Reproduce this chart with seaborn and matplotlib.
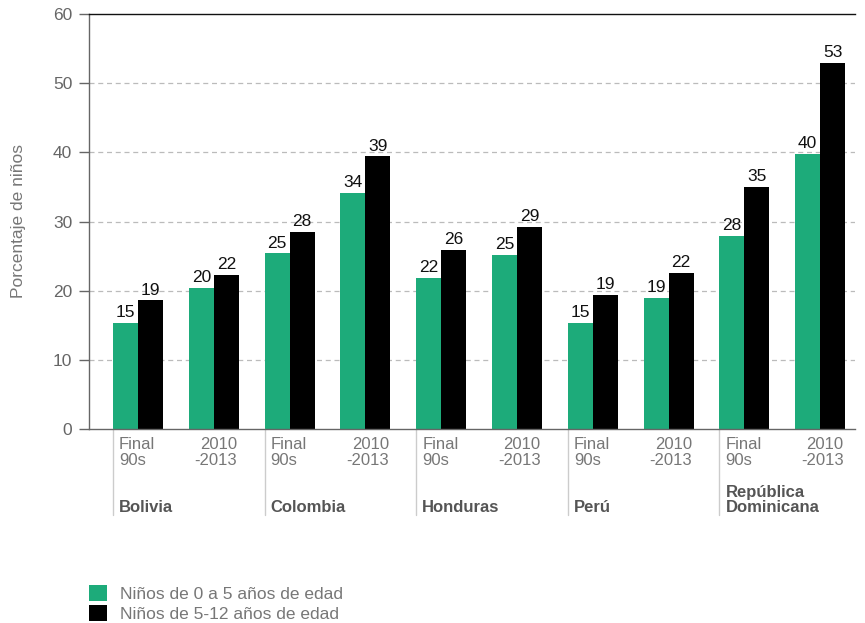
import matplotlib
matplotlib.use("Agg")
import matplotlib.pyplot as plt
import matplotlib.transforms as mtransforms
import seaborn as sns
import pandas as pd

countries = ["Bolivia", "Colombia", "Honduras", "Perú", "República\nDominicana"]
periods = ["Final\n90s", "2010\n-2013"]
series_names = ["Niños de 0 a 5 años de edad", "Niños de 5-12 años de edad"]
young = [15.3, 20.4, 25.4, 34.1, 21.8, 25.2, 15.3, 18.9, 27.9, 39.8]
older = [18.6, 22.3, 28.5, 39.4, 25.9, 29.2, 19.4, 22.6, 35.0, 52.9]
young_labels = ["15", "20", "25", "34", "22", "25", "15", "19", "28", "40"]
older_labels = ["19", "22", "28", "39", "26", "29", "19", "22", "35", "53"]
colors = ["#1dab7a", "#000000"]

keys = [f"{c}|{p}" for c in countries for p in periods]
df = pd.DataFrame({
    "key": keys * 2,
    "serie": [series_names[0]] * len(keys) + [series_names[1]] * len(keys),
    "valor": young + older,
})

sns.set_style("white")
plt.rcParams["font.family"] = ["Liberation Sans", "DejaVu Sans"]

fig = plt.figure(figsize=(8.65, 6.23), dpi=100)
ax = fig.add_axes([89 / 865, 1 - 429 / 623, 766 / 865, 415 / 623])

sns.barplot(data=df, x="key", y="valor", hue="serie", order=keys,
            hue_order=series_names, palette=colors, saturation=1,
            width=0.66, linewidth=0, ax=ax, errorbar=None)

for cont, labs in zip(ax.containers, [young_labels, older_labels]):
    ax.bar_label(cont, labels=labs, padding=2, fontsize=12.5, color="#111111")

ax.set_ylim(0, 60)
ax.set_xlim(-0.646, 9.46)
ax.set_yticks(range(0, 61, 10))
ax.tick_params(axis="y", left=True, length=7, width=1, color="#666666",
               labelsize=12.5, labelcolor="#666666", pad=5)
ax.set_xticks([])
ax.set_xlabel("")
ax.set_ylabel("Porcentaje de niños", fontsize=12.5, color="#777777")
ax.yaxis.set_label_coords(-0.082, 0.5)

for y in range(10, 60, 10):
    ax.axhline(y, color="#bbbbbb", linestyle=(0, (4, 3)), linewidth=0.9, zorder=0)

ax.spines["right"].set_visible(False)
ax.spines["top"].set_color("#111111")
ax.spines["left"].set_color("#666666")
ax.spines["bottom"].set_color("#666666")
for s in ["top", "left", "bottom"]:
    ax.spines[s].set_linewidth(1)

trans = mtransforms.blended_transform_factory(ax.transData, ax.transAxes)
px = 1 / 415.0
for i, country in enumerate(countries):
    left = 2 * i - 0.33
    ax.plot([left, left], [0, -86 * px], transform=trans, color="#cccccc",
            linewidth=1, clip_on=False)
    ax.text(left + 0.08, -8 * px, periods[0], transform=trans, ha="left", va="top",
            fontsize=12, color="#777777", linespacing=1.1)
    ax.text(2 * i + 1 + 0.31, -8 * px, periods[1], transform=trans, ha="right",
            va="top", fontsize=12, color="#777777", linespacing=1.1,
            multialignment="right")
    ax.text(left + 0.08, -86 * px, country, transform=trans, ha="left",
            va="bottom", fontsize=12, fontweight="bold", color="#555555",
            linespacing=1.0)

handles, labels = ax.get_legend_handles_labels()
if ax.get_legend() is not None:
    ax.get_legend().remove()
fig.legend(handles, labels, loc="lower left", bbox_to_anchor=(88 / 865, 0.0),
           frameon=False, fontsize=12.5, labelcolor="#777777",
           handlelength=1.05, handleheight=1.05, handletextpad=0.75,
           labelspacing=0.2, borderpad=0.05, borderaxespad=0)

fig.savefig("out.png", dpi=100)
